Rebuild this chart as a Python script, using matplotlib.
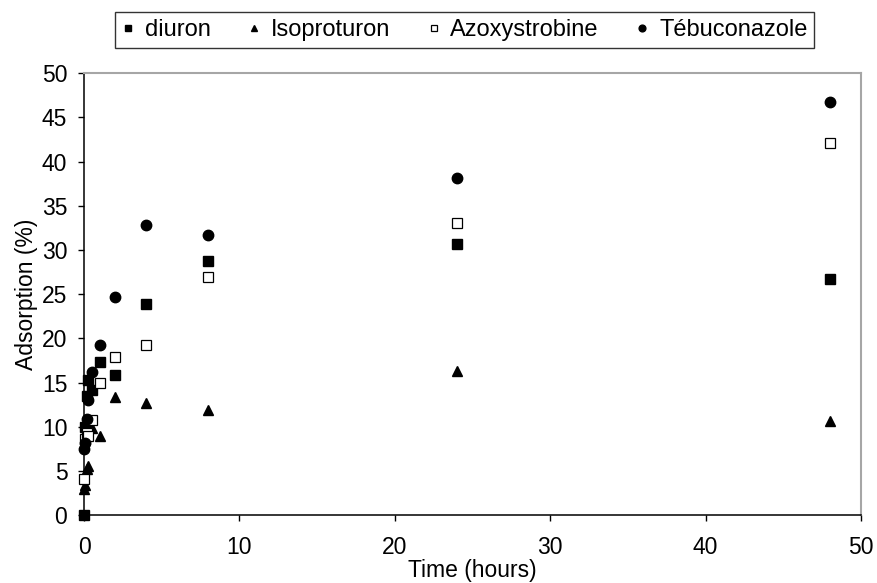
import matplotlib
matplotlib.use("Agg")
import matplotlib.pyplot as plt

plt.rcParams["font.family"] = ["Liberation Sans", "DejaVu Sans"]

# sampling times (hours)
TIME = [0, 0.083, 0.167, 0.25, 0.5, 1, 2, 4, 8, 24, 48]

# adsorption (%)
DIURON = [0, 10.0, 13.5, 15.3, 14.1, 17.3, 15.8, 23.9, 28.8, 30.7, 26.7]
ISOPROTURON = [3.0, 3.4, 5.2, 5.6, 9.9, 8.9, 13.4, 12.7, 11.9, 16.3, 10.6]
AZOXYSTROBINE = [4.1, 8.6, 9.3, 9.0, 10.8, 14.9, 17.9, 19.3, 26.9, 33.1, 42.1]
TEBUCONAZOLE = [7.5, 8.2, 10.9, 13.0, 16.2, 19.2, 24.7, 32.8, 31.7, 38.2, 46.7]

fig = plt.figure(figsize=(8.77, 5.83), dpi=100)
ax = fig.add_axes([0.0958, 0.1166, 0.886, 0.7577])

ax.plot(TIME, DIURON, ls="none", marker="s", ms=7, color="black",
        mec="black", label="diuron", clip_on=False, zorder=3)
ax.plot(TIME, ISOPROTURON, ls="none", marker="^", ms=7.5, color="black",
        mec="black", label="Isoproturon", clip_on=False, zorder=3)
ax.plot(TIME, AZOXYSTROBINE, ls="none", marker="s", ms=7, mfc="white",
        mec="black", mew=0.9, label="Azoxystrobine", clip_on=False, zorder=3)
ax.plot(TIME, TEBUCONAZOLE, ls="none", marker="o", ms=7.5, color="black",
        mec="black", label="Tébuconazole", clip_on=False, zorder=3)

ax.set_xlim(0, 50)
ax.set_ylim(0, 50)
ax.set_xticks(range(0, 51, 10))
ax.set_yticks(range(0, 51, 5))
ax.tick_params(labelsize=16.5, length=4, width=1, direction="out", colors="black")
ax.tick_params(axis="x", pad=11)
ax.tick_params(axis="y", pad=8)

for side in ("left", "bottom"):
    ax.spines[side].set_color("black")
    ax.spines[side].set_linewidth(1.1)
for side in ("top", "right"):
    ax.spines[side].set_color("#a6a6a6")
    ax.spines[side].set_linewidth(1.5)

ax.set_xlabel("Time (hours)", fontsize=16.5, labelpad=0)
ax.set_ylabel("Adsorption (%)", fontsize=16.5, labelpad=3)

leg = fig.legend(loc="upper center", bbox_to_anchor=(0.53, 0.979), ncol=4,
                 fontsize=17, frameon=True, fancybox=False, markerscale=0.65,
                 handlelength=0.5, handletextpad=0.45, columnspacing=1.6,
                 borderpad=0.3, borderaxespad=0)
leg.get_frame().set_edgecolor("black")
leg.get_frame().set_linewidth(1.0)

fig.savefig("out.png", dpi=100)
